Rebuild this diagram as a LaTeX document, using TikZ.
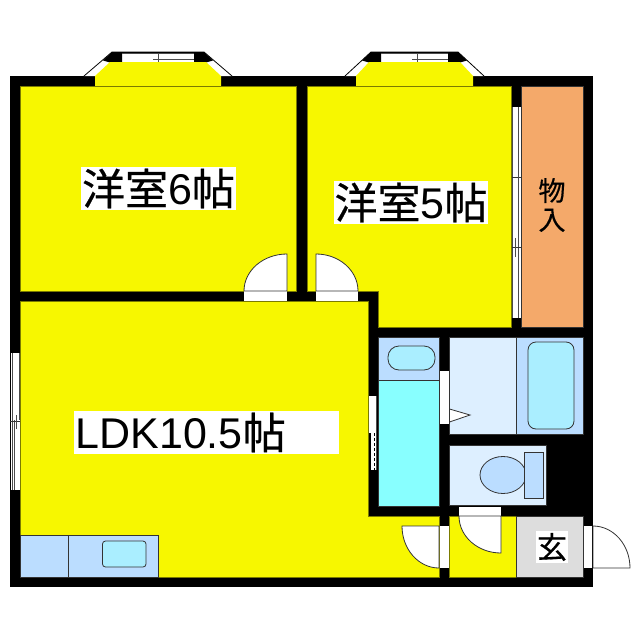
\documentclass[tikz,border=0pt]{standalone}
\usepackage{fontspec}
\usepackage{xcolor}
\setmainfont{Liberation Sans}
\newfontfamily\cjk[FakeBold=0.5]{Noto Sans CJK JP}
\definecolor{roomyellow}{HTML}{F7F700}
\definecolor{closetorange}{HTML}{F4A96A}
\definecolor{wetblue}{HTML}{BBDDFF}
\definecolor{paleblue}{HTML}{DDEFFF}
\definecolor{sinkblue}{HTML}{AAEEFF}
\definecolor{kitchencyan}{HTML}{88FFFF}
\definecolor{entrygrey}{HTML}{DDDDDD}
\definecolor{edgegrey}{HTML}{333333}
\begin{document}
\begin{tikzpicture}[
    x=1pt, y=-1pt, line width=0.8pt,
    room/.style={fill=roomyellow, draw=roomyellow!50!black, line width=0.5pt},
    fixture/.style={draw=edgegrey, fill=#1},
    doorleaf/.style={fill=white, draw=edgegrey},
    glass/.style={fill=white, draw=none},
    mullion/.style={draw=black!70, line width=0.6pt},
    roomlabel/.style={fill=white, inner sep=0pt, font=\fontsize{43}{43}\selectfont}
]
\useasboundingbox (0,0) rectangle (640,640);
% walls
\fill[black] (10,76) rectangle (593,587);
% bay windows
\foreach \a/\b/\c in {122/194/27,381/448/25} {
  \fill[white] (\a-\c-11,76) -- (\a-10,52) -- (\b+10,52) -- (\b+\c+11,76) -- cycle;
  \draw[black] (\a-\c-11,76) -- (\a-10,52) -- (\b+10,52) -- (\b+\c+11,76);
  \fill[black] (\a-10,52) -- (\a-19,60.5) -- (\a-12,62.5) -- (\a,62.5) -- (\a,52) -- cycle;
  \fill[black] (\b+10,52) -- (\b+19,60.5) -- (\b+12,62.5) -- (\b,62.5) -- (\b,52) -- cycle;
  \fill[roomyellow] (\a-\c,76) -- (\a-12,62) -- (\b+12,62) -- (\b+\c,76) -- (\b+\c,86) -- (\a-\c,86) -- cycle;
  \draw[black] (\a,52.5) -- (\b,52.5);
  \draw[mullion] (\a,53.5) -- (\b,53.5);
  \draw[mullion] (\a+31,59) -- (\b,59);
  \draw[mullion] (\a+36,54) -- (\a+36,62);
}
% rooms
\path[room] (20,86) rectangle (296,291);
\path[room] (307,86) -- (511,86) -- (511,327) -- (378,327) -- (378,291) -- (307,291) -- cycle;
\path[room] (20,301) -- (368,301) -- (368,516) -- (439,516) -- (439,577) -- (20,577) -- cycle;
\path[room] (449,516) rectangle (516,577);
\path[fixture=closetorange] (521,86) rectangle (583,327);
\path[fixture=entrygrey] (516,516) rectangle (583,577);
% kitchen counter
\path[fixture=wetblue] (20,535) rectangle (158,577);
\draw[edgegrey] (68,535) -- (68,577);
\path[fixture=sinkblue, rounded corners=3pt] (102.5,541) rectangle (146,567);
% kitchen annex
\path[fixture=kitchencyan] (378,337) rectangle (439,506);
\path[fixture=wetblue] (378,337) rectangle (439,380);
\path[fixture=sinkblue, rounded corners=11pt] (388,346) rectangle (435,370);
% bath
\path[fixture=paleblue] (449,337) rectangle (516,434);
\path[fixture=wetblue] (516,337) rectangle (583,434);
\path[fixture=sinkblue, rounded corners=8pt] (528,342) rectangle (574,429);
% toilet
\path[fixture=paleblue] (449,445) rectangle (546,505);
\path[fixture=wetblue] (503,475) ellipse (23 and 18.5);
\path[fixture=wetblue] (524,452) rectangle (543.5,498);
% windows and openings
\fill[glass] (11,353) rectangle (20,490);
\draw[mullion] (12,353) -- (12,490);
\draw[mullion] (19,353) -- (19,420);
\draw[mullion] (14,420) -- (14,490);
\draw[black!80] (10,421) -- (20,421);
\draw[mullion] (16,415) -- (16,429);
\fill[glass] (512,107) rectangle (521,318);
\draw[mullion] (512.5,107) -- (512.5,318);
\draw[mullion] (518.5,107) -- (518.5,318);
\draw[black!80] (512,177) -- (521,177);
\draw[black!80] (512,247) -- (521,247);
\draw[mullion] (518,168) -- (518,187);
\draw[mullion] (515,238) -- (515,257);
\fill[glass] (440,371) rectangle (449,424);
\path[doorleaf] (449.5,409) -- (470,415) -- (449.5,422) -- cycle;
\fill[glass] (369,396) rectangle (377,470);
\fill[black] (369,433) rectangle (371,470);
\draw[black, dash pattern=on 3pt off 2pt] (374,433) -- (374,470);
\draw[mullion] (376.5,396) -- (376.5,470);
% doors
\fill[glass] (244,291) rectangle (287,301);
\path[doorleaf] (287,291) -- (287,254) arc[start angle=90, end angle=180, x radius=43, y radius=-37] -- cycle;
\fill[glass] (316,291) rectangle (358,301);
\path[doorleaf] (316,291) -- (316,254) arc[start angle=90, end angle=0, x radius=42, y radius=-37] -- cycle;
\fill[glass] (440,526) rectangle (449,568);
\path[doorleaf] (439,526) -- (402,526) arc[start angle=180, end angle=270, x radius=37, y radius=-42] -- cycle;
\fill[glass] (459,507) rectangle (501,516);
\path[doorleaf] (459,516) -- (501,516) -- (501,553) arc[start angle=270, end angle=180, x radius=42, y radius=-37] -- cycle;
\fill[glass] (584,526) rectangle (592,568);
\path[doorleaf] (593,568) -- (593,526) arc[start angle=90, end angle=0, x radius=37, y radius=-42] -- cycle;
% labels
\node[roomlabel, minimum width=155pt, minimum height=43pt] (room6) at (158.5,188.5) {\cjk 洋室\normalfont 6\cjk 帖};
\node[roomlabel, minimum width=154pt, minimum height=43pt] (room5) at (411,202.5) {\cjk 洋室\normalfont 5\cjk 帖};
\node[roomlabel, minimum width=265pt, minimum height=43pt, text width=262pt] (ldk) at (206.5,432.5) {LDK10.5\cjk 帖};
\node[font=\cjk\fontsize{27}{29}\selectfont, align=center, inner sep=0pt] (closet) at (552,205) {物\\入};
\node[fill=white, inner sep=0pt, minimum width=32pt, minimum height=32pt, font=\cjk\fontsize{30}{30}\selectfont] (entry) at (552,547) {玄};
\end{tikzpicture}
\end{document}
